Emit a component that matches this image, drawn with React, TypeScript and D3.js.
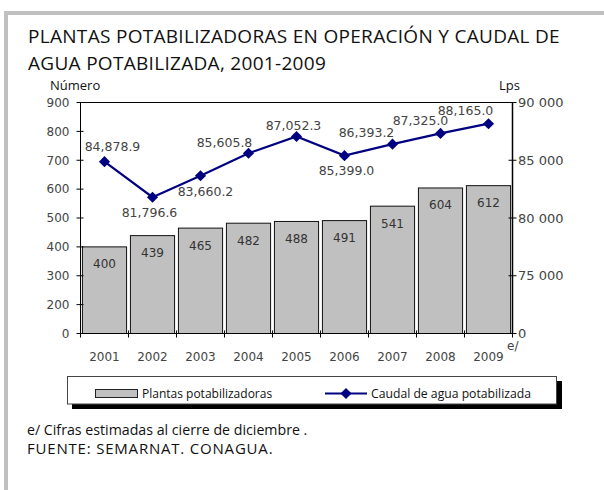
import * as d3 from "d3";

const years = ["2001", "2002", "2003", "2004", "2005", "2006", "2007", "2008", "2009"];
const plantas = [400, 439, 465, 482, 488, 491, 541, 604, 612];
const caudal = [84878.9, 81796.6, 83660.2, 85605.8, 87052.3, 85399.0, 86393.2, 87325.0, 88165.0];
const leftTicks = [100, 200, 300, 400, 500, 600, 700, 800, 900];
const rightTicks = [70000, 75000, 80000, 85000, 90000];

// where each flow label sits relative to its marker (label centre)
const labelOffsets = [
    [8, -15], [-3, 15], [5, 16], [-24, -11], [-3, -11],
    [2, 15], [-26, -12], [-20, -13], [-23, -13]
];

const W = 604;
const H = 490;
const PLOT = { left: 80.5, right: 512.5, top: 102.5, bottom: 333.5 };

const NUM_FONT = "'DejaVu Sans', Verdana, sans-serif";
const TEXT_FONT = "'Open Sans', sans-serif";
const NAVY = "#000080";

const x = d3.scaleBand<string>()
    .domain(years)
    .range([PLOT.left, PLOT.right])
    .paddingInner(0.08)
    .paddingOuter(0.04);

const yLeft = d3.scaleLinear().domain([100, 900]).range([PLOT.bottom, PLOT.top]);
const yRight = d3.scaleLinear().domain([70000, 90000]).range([PLOT.bottom, PLOT.top]);

const fmtFlow = d3.format(",.1f");
// the axes are broken: the lowest tick stands for zero
const fmtRight = (v: number) => (v === 70000 ? "0" : d3.format(",")(v).replace(/,/g, " "));
const fmtLeft = (v: number) => (v === 100 ? "0" : String(v));

const diamond = d3.symbol(d3.symbolSquare, 62)();

const line = d3.line<number>()
    .x((_, i) => x(years[i])! + x.bandwidth() / 2)
    .y(d => yRight(d));

export default function App() {
    const step = x.step();
    const boundaries = d3.range(years.length + 1).map(i => PLOT.left + i * step);

    return (
        <svg width={W} height={H} style={{ position: "absolute", left: 0, top: 0, background: "#fff" }}>
            {/* outer frame */}
            <rect x={6} y={13} width={700} height={600} fill="none" stroke="#c0c0c0" strokeWidth={4} />

            <text x={28} y={43} fontFamily={TEXT_FONT} fontSize={19} letterSpacing={0.3} fill="#111">
                PLANTAS POTABILIZADORAS EN OPERACIÓN Y CAUDAL DE
            </text>
            <text x={28} y={69.5} fontFamily={TEXT_FONT} fontSize={19} letterSpacing={0.3} fill="#111">
                AGUA POTABILIZADA, 2001-2009
            </text>
            <text x={50} y={89.5} fontFamily={TEXT_FONT} fontSize={13} fill="#111">Número</text>
            <text x={499} y={89.5} fontFamily={TEXT_FONT} fontSize={13} fill="#111">Lps</text>

            {/* bars */}
            {plantas.map((v, i) => (
                <g key={years[i]}>
                    <rect
                        x={x(years[i])}
                        y={yLeft(v)}
                        width={x.bandwidth()}
                        height={PLOT.bottom - yLeft(v)}
                        fill="#c0c0c0"
                        stroke="#111"
                        strokeWidth={1}
                    />
                    <text
                        x={x(years[i])! + x.bandwidth() / 2}
                        y={yLeft(v) + 21.5}
                        textAnchor="middle"
                        fontFamily={NUM_FONT}
                        fontSize={12}
                        fill="#333"
                    >
                        {v}
                    </text>
                </g>
            ))}

            {/* plot frame */}
            <line x1={PLOT.left} x2={PLOT.right} y1={PLOT.top} y2={PLOT.top} stroke="#000" />
            <line x1={PLOT.left} x2={PLOT.right} y1={PLOT.bottom} y2={PLOT.bottom} stroke="#000" />
            <line x1={PLOT.left} x2={PLOT.left} y1={PLOT.top} y2={PLOT.bottom} stroke="#000" />
            <line x1={PLOT.right} x2={PLOT.right} y1={PLOT.top} y2={PLOT.bottom} stroke="#000" strokeWidth={1.5} />

            {/* left axis */}
            {leftTicks.map(t => (
                <g key={t}>
                    <line x1={PLOT.left - 4} x2={PLOT.left + 3} y1={yLeft(t)} y2={yLeft(t)} stroke="#000" />
                    <text
                        x={PLOT.left - 11}
                        y={yLeft(t) + 4.3}
                        textAnchor="end"
                        fontFamily={NUM_FONT}
                        fontSize={12}
                        fill="#444"
                    >
                        {fmtLeft(t)}
                    </text>
                </g>
            ))}

            {/* right axis */}
            {rightTicks.map(t => (
                <g key={t}>
                    <line x1={PLOT.right - 4} x2={PLOT.right + 4} y1={yRight(t)} y2={yRight(t)} stroke="#000" />
                    <text
                        x={PLOT.right + 5.5}
                        y={yRight(t) + 4.5}
                        fontFamily={NUM_FONT}
                        fontSize={13}
                        fill="#444"
                    >
                        {fmtRight(t)}
                    </text>
                </g>
            ))}

            {/* x axis */}
            {boundaries.map((b, i) => (
                <line key={i} x1={b} x2={b} y1={PLOT.bottom - 3} y2={PLOT.bottom + 4} stroke="#000" />
            ))}
            {years.map(y => (
                <text
                    key={y}
                    x={x(y)! + x.bandwidth() / 2}
                    y={361}
                    textAnchor="middle"
                    fontFamily={NUM_FONT}
                    fontSize={12}
                    fill="#444"
                >
                    {y}
                </text>
            ))}
            <text x={507} y={350} fontFamily={NUM_FONT} fontSize={12} fill="#444">e/</text>

            {/* flow line */}
            <path d={line(caudal) ?? ""} fill="none" stroke={NAVY} strokeWidth={2.2} />
            {caudal.map((v, i) => {
                const cx = x(years[i])! + x.bandwidth() / 2;
                const cy = yRight(v);
                return (
                    <g key={i}>
                        <path d={diamond ?? ""} transform={`translate(${cx},${cy}) rotate(45)`} fill={NAVY} />
                        <text
                            x={cx + labelOffsets[i][0]}
                            y={cy + labelOffsets[i][1] + 4.5}
                            textAnchor="middle"
                            fontFamily={NUM_FONT}
                            fontSize={12.5}
                            fill="#444"
                        >
                            {fmtFlow(v)}
                        </text>
                    </g>
                );
            })}

            {/* legend */}
            <rect x={72} y={381} width={490} height={28} fill="#000" />
            <rect x={67.5} y={376.5} width={489} height={27.5} fill="#fff" stroke="#444" />
            <rect x={95.5} y={389.5} width={42} height={8} fill="#c0c0c0" stroke="#222" />
            <text x={142} y={398} fontFamily={TEXT_FONT} fontSize={12} fill="#111">Plantas potabilizadoras</text>
            <line x1={325} x2={367} y1={393.5} y2={393.5} stroke={NAVY} strokeWidth={2} />
            <path d={diamond ?? ""} transform="translate(346,393.5) rotate(45)" fill={NAVY} />
            <text x={371} y={398} fontFamily={TEXT_FONT} fontSize={12.2} fill="#111">Caudal de agua potabilizada</text>

            {/* notes */}
            <text x={27} y={434.5} fontFamily={TEXT_FONT} fontSize={14.2} fill="#111">
                e/ Cifras estimadas al cierre de diciembre .
            </text>
            <text x={27} y={454} fontFamily={TEXT_FONT} fontSize={15} letterSpacing={0.8} fill="#111">
                FUENTE: SEMARNAT. CONAGUA.
            </text>
        </svg>
    );
}
